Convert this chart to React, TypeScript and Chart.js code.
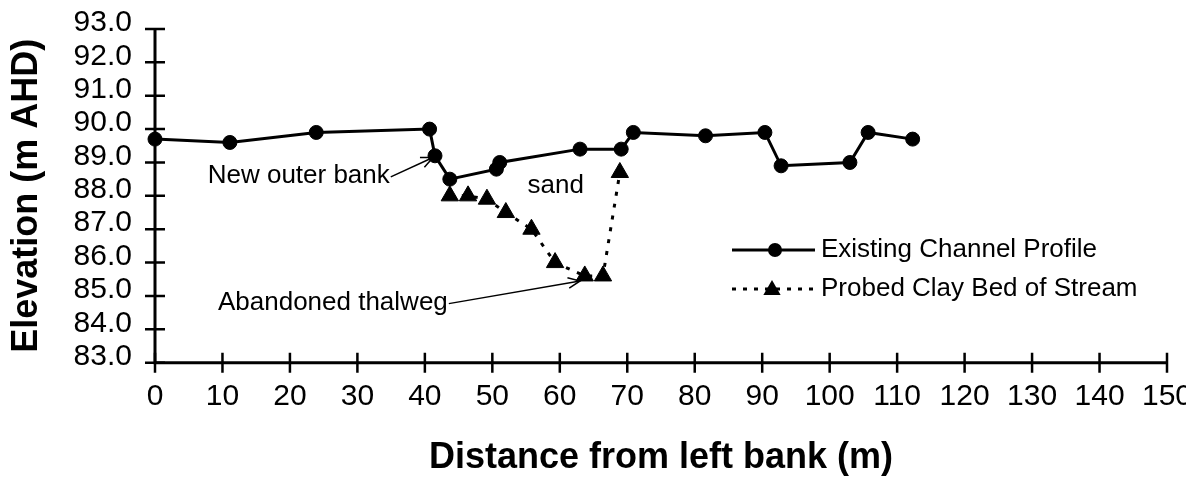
import React, { useEffect, useRef } from 'react';
import { Chart, registerables } from 'chart.js';

Chart.register(...registerables);

// ---- data ----
const channelDistance = [0, 11.1, 23.9, 40.7, 41.5, 43.7, 50.6, 51.1, 63.0, 69.1, 70.9, 81.6, 90.4, 92.8, 103.0, 105.7, 112.3];
const channelElevation = [89.7, 89.6, 89.9, 90.0, 89.2, 88.5, 88.8, 89.0, 89.4, 89.4, 89.9, 89.8, 89.9, 88.9, 89.0, 89.9, 89.7];

const clayDistance = [43.7, 46.4, 49.2, 52.0, 55.8, 59.3, 63.7, 66.4, 68.9];
const clayElevation = [88.0, 88.0, 87.9, 87.5, 87.0, 86.0, 85.6, 85.6, 88.7];

const seriesLabels = ['Existing Channel Profile', 'Probed Clay Bed of Stream'];

const xMin = 0;
const xMax = 150;
const xStep = 10;
const yMin = 83;
const yMax = 93;
const yStep = 1;

const xTitle = 'Distance from left bank (m)';
const yTitle = 'Elevation (m AHD)';

// annotations (in data units)
const noteTexts = ['New outer bank', 'Abandoned thalweg', 'sand'];
const noteX = [34.8, 43.4, 59.4]; // right edge for arrow notes, centre for 'sand'
const noteY = [88.6, 84.8, 88.3];
const noteArrowTipX = [41.2, 63.0];
const noteArrowTipY = [89.15, 85.45];

const FONT = "'Liberation Sans', Arial, Helvetica, sans-serif";

function drawArrow(ctx: CanvasRenderingContext2D, x1: number, y1: number, x2: number, y2: number) {
  ctx.beginPath();
  ctx.moveTo(x1, y1);
  ctx.lineTo(x2, y2);
  ctx.stroke();
  const a = Math.atan2(y2 - y1, x2 - x1);
  const L = 13;
  const w = 0.42;
  ctx.beginPath();
  ctx.moveTo(x2 - L * Math.cos(a - w), y2 - L * Math.sin(a - w));
  ctx.lineTo(x2, y2);
  ctx.lineTo(x2 - L * Math.cos(a + w), y2 - L * Math.sin(a + w));
  ctx.stroke();
}

function drawTriangle(ctx: CanvasRenderingContext2D, x: number, y: number, r: number) {
  ctx.beginPath();
  for (let i = 0; i < 3; i++) {
    const rad = (i * 2 * Math.PI) / 3;
    const px = x + Math.sin(rad) * r;
    const py = y - Math.cos(rad) * r;
    if (i === 0) ctx.moveTo(px, py);
    else ctx.lineTo(px, py);
  }
  ctx.closePath();
  ctx.fill();
}

const axesPlugin = {
  id: 'crossAxes',
  beforeDatasetsDraw(chart: any) {
    const { ctx, chartArea } = chart;
    const { left, right, top, bottom } = chartArea;
    const xs = chart.scales.x;
    const ys = chart.scales.y;
    ctx.save();
    ctx.strokeStyle = '#000';
    ctx.lineWidth = 3;
    ctx.beginPath();
    ctx.moveTo(left, top - 1);
    ctx.lineTo(left, bottom);
    ctx.lineTo(right, bottom);
    ctx.stroke();
    ctx.lineWidth = 2.5;
    ctx.beginPath();
    ys.ticks.forEach((t: any) => {
      const py = ys.getPixelForValue(t.value);
      ctx.moveTo(left - 10, py);
      ctx.lineTo(left + 10, py);
    });
    xs.ticks.forEach((t: any) => {
      const px = xs.getPixelForValue(t.value);
      ctx.moveTo(px, bottom - 10);
      ctx.lineTo(px, bottom + 10);
    });
    ctx.stroke();
    ctx.restore();
  },
};

const notesPlugin = {
  id: 'notes',
  afterDatasetsDraw(chart: any) {
    const { ctx } = chart;
    const xs = chart.scales.x;
    const ys = chart.scales.y;
    ctx.save();
    ctx.fillStyle = '#000';
    ctx.strokeStyle = '#000';
    ctx.lineWidth = 1.5;
    ctx.font = `26px ${FONT}`;
    ctx.textBaseline = 'middle';
    for (let i = 0; i < noteTexts.length; i++) {
      const px = xs.getPixelForValue(noteX[i]);
      const py = ys.getPixelForValue(noteY[i]);
      if (i < noteArrowTipX.length) {
        ctx.textAlign = 'right';
        ctx.fillText(noteTexts[i], px, py);
        drawArrow(ctx, px + 1, py + 1, xs.getPixelForValue(noteArrowTipX[i]), ys.getPixelForValue(noteArrowTipY[i]));
      } else {
        ctx.textAlign = 'center';
        ctx.fillText(noteTexts[i], px, py);
      }
    }
    ctx.restore();
  },
};

const legendPlugin = {
  id: 'insideLegend',
  afterDatasetsDraw(chart: any) {
    const { ctx } = chart;
    const x0 = 732;
    const x1 = 815;
    const xm = 775;
    const tx = 821;
    const rows = [250, 289];
    ctx.save();
    ctx.fillStyle = '#000';
    ctx.strokeStyle = '#000';
    ctx.lineWidth = 3;
    ctx.setLineDash([]);
    ctx.beginPath();
    ctx.moveTo(x0, rows[0]);
    ctx.lineTo(x1, rows[0]);
    ctx.stroke();
    ctx.beginPath();
    ctx.arc(xm, rows[0], 7, 0, Math.PI * 2);
    ctx.fill();
    ctx.setLineDash([4, 7]);
    ctx.beginPath();
    ctx.moveTo(x0, rows[1]);
    ctx.lineTo(x1, rows[1]);
    ctx.stroke();
    ctx.setLineDash([]);
    drawTriangle(ctx, xm - 3, rows[1] + 1, 10);
    ctx.font = `26px ${FONT}`;
    ctx.textBaseline = 'middle';
    ctx.textAlign = 'left';
    ctx.fillText(seriesLabels[0], tx, rows[0]);
    ctx.fillText(seriesLabels[1], tx, rows[1]);
    ctx.restore();
  },
};

export default function App() {
  const canvasRef = useRef<HTMLCanvasElement | null>(null);

  useEffect(() => {
    document.body.style.margin = '0';
    document.body.style.overflow = 'hidden';
    const canvas = canvasRef.current;
    if (!canvas) return;

    const chart = new Chart(canvas, {
      type: 'scatter',
      data: {
        datasets: [
          {
            label: seriesLabels[0],
            data: channelDistance.map((x, i) => ({ x, y: channelElevation[i] })),
            showLine: true,
            borderColor: '#000',
            backgroundColor: '#000',
            borderWidth: 3,
            pointStyle: 'circle',
            pointRadius: 7,
            pointBorderWidth: 1,
            clip: false as any,
          },
          {
            label: seriesLabels[1],
            data: clayDistance.map((x, i) => ({ x, y: clayElevation[i] })),
            showLine: true,
            borderColor: '#000',
            backgroundColor: '#000',
            borderWidth: 3,
            borderDash: [4, 8],
            pointStyle: 'triangle',
            pointRadius: 10,
            pointBorderWidth: 1,
            clip: false as any,
          },
        ],
      },
      options: {
        animation: false,
        responsive: true,
        maintainAspectRatio: false,
        layout: { padding: { top: 29, right: 48, left: 0, bottom: 0 } },
        plugins: {
          legend: { display: false },
          tooltip: { enabled: false },
        },
        scales: {
          x: {
            type: 'linear',
            min: xMin,
            max: xMax,
            grid: { display: false, drawTicks: false },
            border: { display: false },
            ticks: {
              stepSize: xStep,
              color: '#000',
              font: { family: FONT, size: 30 },
              padding: 16,
              maxRotation: 0,
              autoSkip: false,
            },
            title: {
              display: true,
              text: xTitle,
              color: '#000',
              font: { family: FONT, size: 36, weight: 'bold' },
              padding: { top: 22, bottom: 1 },
            },
            afterFit: (s: any) => {
              s.height = 118.3;
            },
          },
          y: {
            type: 'linear',
            min: yMin,
            max: yMax,
            grid: { display: false, drawTicks: true, tickLength: 18 },
            border: { display: false },
            ticks: {
              stepSize: yStep,
              color: '#000',
              font: { family: FONT, size: 30 },
              padding: 5,
              labelOffset: -6,
              autoSkip: false,
              callback: (v: any) => Number(v).toFixed(1),
            },
            title: {
              display: true,
              text: yTitle,
              color: '#000',
              font: { family: FONT, size: 36, weight: 'bold' },
              padding: { top: 5, bottom: 2 },
            },
            afterFit: (s: any) => {
              s.width = 155;
            },
          },
        },
      },
      plugins: [axesPlugin, notesPlugin, legendPlugin],
    });

    return () => chart.destroy();
  }, []);

  return (
    <div style={{ position: 'relative', width: 1215, height: 481, background: '#fff' }}>
      <canvas ref={canvasRef} style={{ display: 'block' }} />
    </div>
  );
}
